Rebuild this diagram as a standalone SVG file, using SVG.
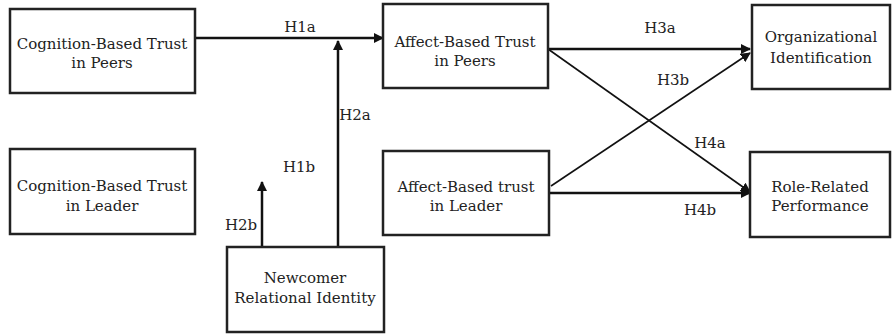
<svg xmlns="http://www.w3.org/2000/svg" width="893" height="335" viewBox="0 0 893 335">
<style>
.box{fill:#fff;stroke:#222;stroke-width:2.5}
.t{font-family:"DejaVu Serif","Liberation Serif",serif;font-size:15px;fill:#222;text-anchor:middle}
.c{stroke:#111;fill:none}
</style>
<defs>
<marker id="ah2" viewBox="0 0 10 10" refX="9" refY="5" markerWidth="10" markerHeight="10" orient="auto" markerUnits="userSpaceOnUse">
<path d="M0,0 L10,5 L0,10 z" fill="#111"/>
</marker>
</defs>
<rect width="893" height="335" fill="#fff"/>
<g id="connectors">
<line class="c" x1="195" y1="38" x2="383" y2="38" stroke-width="2.5" marker-end="url(#ah2)"/>
<line class="c" x1="338" y1="247" x2="338" y2="41" stroke-width="2.5" marker-end="url(#ah2)"/>
<line class="c" x1="262" y1="247" x2="262" y2="182" stroke-width="2.5" marker-end="url(#ah2)"/>
<line class="c" x1="548" y1="49" x2="750" y2="49" stroke-width="2.5" marker-end="url(#ah2)"/>
<line class="c" x1="551" y1="186" x2="750" y2="53" stroke-width="1.6" marker-end="url(#ah2)"/>
<line class="c" x1="548" y1="49" x2="750" y2="192" stroke-width="1.6" marker-end="url(#ah2)"/>
<line class="c" x1="549" y1="193" x2="750" y2="193" stroke-width="2.5" marker-end="url(#ah2)"/>
<text class="t" x="300" y="32">H1a</text>
<text class="t" x="355" y="120">H2a</text>
<text class="t" x="299" y="172">H1b</text>
<text class="t" x="241" y="230">H2b</text>
<text class="t" x="660" y="33">H3a</text>
<text class="t" x="673" y="85">H3b</text>
<text class="t" x="710" y="148">H4a</text>
<text class="t" x="700" y="215">H4b</text>
</g>
<g id="cog-peers">
<rect class="box" x="10" y="9" width="185" height="84"/>
<text class="t" x="102" y="49">Cognition-Based Trust</text>
<text class="t" x="102" y="68">in Peers</text>
</g>
<g id="cog-leader">
<rect class="box" x="10" y="149" width="185" height="85"/>
<text class="t" x="102" y="191">Cognition-Based Trust</text>
<text class="t" x="102" y="211">in Leader</text>
</g>
<g id="newcomer">
<rect class="box" x="227" y="247" width="157" height="85"/>
<text class="t" x="305" y="283">Newcomer</text>
<text class="t" x="305" y="303">Relational Identity</text>
</g>
<g id="aff-peers">
<rect class="box" x="383" y="4" width="165" height="84"/>
<text class="t" x="465" y="47">Affect-Based Trust</text>
<text class="t" x="465" y="66">in Peers</text>
</g>
<g id="aff-leader">
<rect class="box" x="383" y="151" width="166" height="84"/>
<text class="t" x="466" y="192">Affect-Based trust</text>
<text class="t" x="466" y="211">in Leader</text>
</g>
<g id="org-id">
<rect class="box" x="752" y="5" width="138" height="84"/>
<text class="t" x="821" y="42">Organizational</text>
<text class="t" x="821" y="63">Identification</text>
</g>
<g id="role-perf">
<rect class="box" x="750" y="152" width="140" height="85"/>
<text class="t" x="820" y="192">Role-Related</text>
<text class="t" x="820" y="211">Performance</text>
</g>
</svg>
